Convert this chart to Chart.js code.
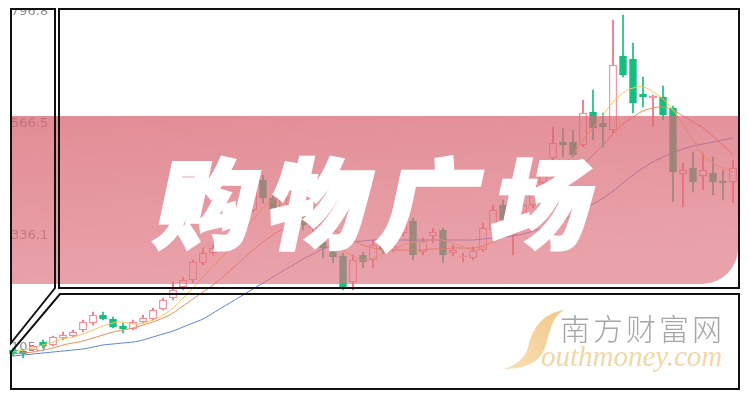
<!DOCTYPE html>
<html>
<head>
<meta charset="utf-8">
<script src="https://cdn.jsdelivr.net/npm/chart.js@4.4.1/dist/chart.umd.min.js"></script>
<style>
  html, body { margin: 0; padding: 0; background: #fff; }
  #wrap { position: relative; width: 750px; height: 400px; overflow: hidden; }
  #kline, #deco { position: absolute; left: 0; top: 0; }
  #title {
    position: absolute; left: 150px; top: 149px;
    font-family: "Noto Sans CJK SC"; font-weight: 900; font-size: 98px; line-height: 1;
    color: #fff; letter-spacing: 14px; white-space: nowrap;
    -webkit-text-stroke: 3px #fff; transform: skewX(-12deg); transform-origin: left bottom;
  }
  #wm-cn {
    position: absolute; left: 560px; top: 312px;
    font-family: "Noto Sans CJK SC"; font-weight: 300; font-size: 30px; line-height: 1;
    color: #a6a6a6; letter-spacing: 3px; white-space: nowrap;
  }
  #wm-en {
    position: absolute; left: 541px; top: 342px;
    font-family: "Liberation Serif"; font-style: italic; font-size: 29px; line-height: 1;
    color: #f2d6a4; white-space: nowrap;
  }
</style>
</head>
<body>
<div id="wrap">
  <canvas id="kline" width="750" height="400"></canvas>
  <svg id="deco" width="750" height="400">
    <defs>
      <linearGradient id="band" x1="0" y1="0" x2="0.3" y2="1">
        <stop offset="0" stop-color="rgb(215,100,112)" stop-opacity="0.74"/>
        <stop offset="1" stop-color="rgb(222,115,127)" stop-opacity="0.66"/>
      </linearGradient>
      <linearGradient id="gold" x1="0" y1="1" x2="1" y2="0">
        <stop offset="0" stop-color="#f7e0b4"/>
        <stop offset="1" stop-color="#f1c98a"/>
      </linearGradient>
    </defs>
    <rect x="0" y="0" width="750" height="8" fill="#fff"/>
    <path d="M11 116 H738 V248 A36 36 0 0 1 702 284 H11 Z" fill="url(#band)"/>
    <g fill="none" stroke="#111" stroke-width="2">
      <polygon points="11,9 55,9 55,288 11,343"/>
      <rect x="59" y="9" width="680" height="279"/>
      <polygon points="60,294 739,294 739,389 11,389 11,352"/>
    </g>
    <path d="M564 310 C544 313, 533 327, 529 344 C526 357, 518 365, 503 369 C526 369, 541 362, 546 345 C550 330, 552 317, 564 310 Z" fill="url(#gold)"/>
  </svg>
  <div id="title">购物广场</div>
  <div id="wm-cn">南方财富网</div>
  <div id="wm-en">outhmoney.com</div>
</div>
<script>
  // daily candles (oldest first)
  const opens = [100.5, 98.4, 100.5, 117.0, 110.8, 125.2, 129.3, 141.7, 156.1, 172.6,
    164.4, 150.0, 143.8, 158.2, 164.4, 184.9, 207.6, 230.3, 244.7, 279.7,
    300.3, 314.7, 327.1, 347.7, 388.9, 450.7, 413.6, 393.0, 409.5, 384.8,
    351.8, 323.0, 302.4, 294.1, 240.6, 296.2, 285.9, 331.2, 306.5, 341.5,
    366.2, 302.4, 335.3, 347.7, 300.3, 292.1, 290.0, 306.5, 347.7, 399.2,
    337.4, 362.1, 399.2, 444.5, 496.0, 529.0, 529.0, 522.8, 590.8, 568.1,
    553.7, 706.1, 700.0, 627.9, 619.6, 621.7, 599.0, 463.1, 475.4, 458.9,
    465.1, 448.6, 446.6];
  const closes = [92.3, 92.3, 108.7, 108.7, 127.3, 131.4, 137.6, 158.2, 172.6, 164.4,
    147.9, 143.8, 158.2, 166.4, 182.9, 203.5, 224.1, 244.7, 281.8, 300.3,
    310.6, 323.0, 358.0, 399.2, 440.4, 413.6, 388.9, 419.8, 378.6, 358.0,
    364.2, 310.6, 292.1, 230.3, 285.9, 281.8, 316.8, 306.5, 314.7, 364.2,
    296.2, 325.0, 343.6, 296.2, 306.5, 294.1, 304.4, 351.8, 388.9, 368.3,
    378.6, 399.2, 440.4, 465.1, 526.9, 522.8, 502.2, 588.7, 557.8, 559.9,
    687.6, 667.0, 609.3, 621.7, 623.7, 584.6, 467.2, 471.3, 446.6, 471.3,
    446.6, 444.5, 475.4];
  const highs = [104.6, 102.6, 110.8, 121.1, 129.3, 137.6, 141.7, 162.3, 178.8, 178.8,
    168.5, 156.1, 162.3, 172.6, 187.0, 207.6, 240.6, 250.9, 285.9, 310.6,
    316.8, 331.2, 368.3, 409.5, 450.7, 461.0, 419.8, 430.1, 419.8, 393.0,
    372.4, 335.3, 312.7, 300.3, 296.2, 302.4, 327.1, 337.4, 320.9, 374.5,
    372.4, 331.2, 351.8, 351.8, 316.8, 300.3, 312.7, 362.1, 399.2, 409.5,
    388.9, 409.5, 450.7, 481.6, 559.9, 557.8, 553.7, 615.5, 636.1, 588.7,
    780.3, 790.6, 732.9, 662.9, 625.8, 644.3, 603.1, 485.7, 508.4, 506.3,
    498.1, 471.3, 491.9];
  const lows = [88.1, 84.0, 98.4, 104.6, 108.7, 121.1, 127.3, 137.6, 152.0, 162.3,
    145.8, 135.5, 141.7, 156.1, 162.3, 182.9, 203.5, 224.1, 238.5, 275.6,
    296.2, 310.6, 323.0, 343.6, 384.8, 403.3, 378.6, 384.8, 368.3, 347.7,
    343.6, 290.0, 279.7, 224.1, 224.1, 269.4, 269.4, 300.3, 302.4, 335.3,
    285.9, 296.2, 320.9, 279.7, 294.1, 281.8, 285.9, 302.4, 341.5, 358.0,
    296.2, 355.9, 393.0, 440.4, 491.9, 498.1, 498.1, 518.7, 533.1, 518.7,
    547.5, 662.9, 588.7, 601.1, 561.9, 574.3, 405.4, 395.1, 426.0, 430.1,
    419.8, 409.5, 403.3];

  // moving average lines as drawn on the picture
  const ma5 = [96.4, 100.5, 104.6, 110.8, 117.0, 123.2, 127.3, 133.5, 141.7, 150.0,
    156.1, 158.2, 154.1, 156.1, 162.3, 172.6, 187.0, 207.6, 228.2, 250.9,
    273.5, 294.1, 316.8, 341.5, 368.3, 393.0, 409.5, 415.7, 409.5, 395.1,
    378.6, 355.9, 331.2, 306.5, 294.1, 285.9, 290.0, 298.3, 306.5, 316.8,
    323.0, 323.0, 327.1, 327.1, 320.9, 312.7, 306.5, 310.6, 327.1, 347.7,
    364.2, 382.7, 405.4, 430.1, 456.9, 481.6, 502.2, 533.1, 557.8, 584.6,
    611.4, 629.9, 640.2, 642.3, 632.0, 617.6, 594.9, 564.0, 533.1, 502.2,
    485.7, 475.4, 467.2];
  const ma10 = [92.3, 94.3, 96.4, 100.5, 104.6, 110.8, 114.9, 119.0, 125.2, 131.4,
    137.6, 141.7, 145.8, 152.0, 158.2, 166.4, 176.7, 191.1, 205.6, 220.0,
    234.4, 250.9, 269.4, 288.0, 306.5, 323.0, 337.4, 349.8, 358.0, 362.1,
    362.1, 355.9, 347.7, 337.4, 327.1, 316.8, 310.6, 308.6, 306.5, 306.5,
    306.5, 306.5, 308.6, 308.6, 310.6, 310.6, 310.6, 314.7, 323.0, 333.3,
    345.6, 360.1, 378.6, 399.2, 421.9, 442.5, 461.0, 481.6, 502.2, 522.8,
    545.5, 566.1, 580.5, 592.8, 599.0, 601.1, 594.9, 582.5, 570.2, 557.8,
    541.3, 522.8, 502.2];
  const ma30 = [88.1, 90.2, 92.3, 94.3, 96.4, 98.4, 100.5, 102.6, 106.7, 110.8,
    112.9, 114.9, 117.0, 121.1, 127.3, 133.5, 139.6, 147.9, 156.1, 164.4,
    176.7, 189.1, 201.4, 213.8, 226.2, 238.5, 250.9, 263.2, 275.6, 288.0,
    298.3, 308.6, 314.7, 318.9, 323.0, 325.0, 327.1, 327.1, 327.1, 327.1,
    327.1, 327.1, 327.1, 327.1, 327.1, 327.1, 327.1, 329.2, 331.2, 333.3,
    335.3, 339.5, 345.6, 351.8, 360.1, 368.3, 378.6, 388.9, 401.3, 413.6,
    428.0, 444.5, 461.0, 475.4, 487.8, 498.1, 506.3, 514.6, 520.7, 524.9,
    529.0, 533.1, 537.2];

  const yTicks = [105.7, 336.1, 566.5, 796.8];
  const days = opens.map((_, i) => String(i + 1));

  const upColor = '#ee6a78';
  const downColor = '#17bd7f';
  const rising = opens.map((o, i) => closes[i] >= o);

  new Chart(document.getElementById('kline').getContext('2d'), {
    type: 'bar',
    data: {
      labels: days,
      datasets: [
        { type: 'line', data: ma5, borderColor: '#f6c45e', borderWidth: 1, pointRadius: 0, tension: 0.4, order: 0 },
        { type: 'line', data: ma10, borderColor: '#f08a55', borderWidth: 1, pointRadius: 0, tension: 0.4, order: 0 },
        { type: 'line', data: ma30, borderColor: '#5b80e2', borderWidth: 1, pointRadius: 0, tension: 0.4, order: 0 },
        {
          data: opens.map((o, i) => [o, closes[i]]),
          backgroundColor: rising.map(r => r ? '#ffffff' : downColor),
          borderColor: rising.map(r => r ? upColor : downColor),
          borderWidth: 1, borderSkipped: false, barThickness: 7, grouped: false, order: 1,
        },
        {
          data: lows.map((l, i) => [l, highs[i]]),
          backgroundColor: rising.map(r => r ? upColor : downColor),
          barThickness: 1, grouped: false, order: 2,
        },
      ],
    },
    options: {
      responsive: false,
      animation: false,
      layout: { padding: { left: 8, right: 12, top: 12, bottom: 35 } },
      plugins: { legend: { display: false }, tooltip: { enabled: false } },
      scales: {
        x: { display: false, offset: true },
        y: {
          z: 1,
          min: 69.6,
          max: 796.8,
          afterBuildTicks: scale => { scale.ticks = yTicks.map(v => ({ value: v })); },
          afterFit: scale => { scale.width = 0; },
          grid: { display: false },
          border: { display: false },
          ticks: {
            mirror: true, padding: 3, color: '#8f8f8f',
            font: { family: 'DejaVu Sans', size: 13 },
            callback: v => v.toFixed(1),
          },
        },
      },
    },
  });
</script>
</body>
</html>
